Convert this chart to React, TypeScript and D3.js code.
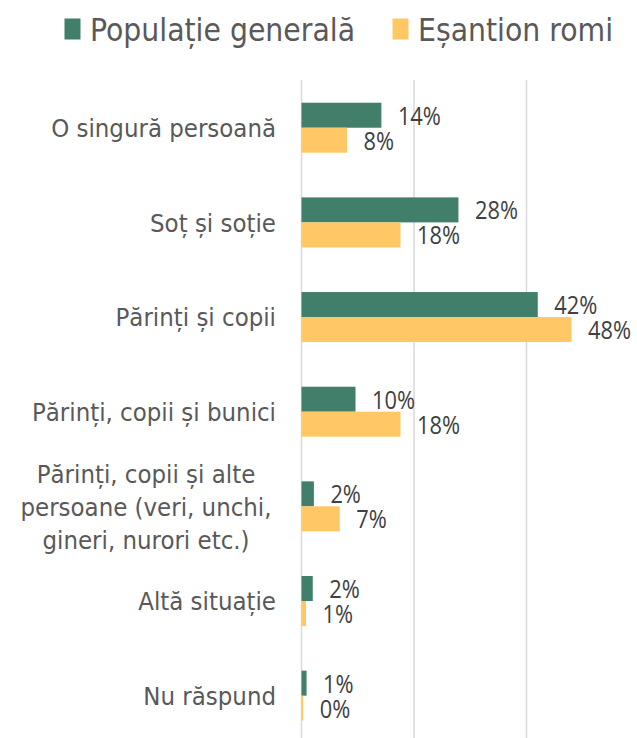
import React from "react";
import * as d3 from "d3";

const categories: string[][] = [
  ["O singură persoană"],
  ["Soț și soție"],
  ["Părinți și copii"],
  ["Părinți, copii și bunici"],
  ["Părinți, copii și alte", "persoane (veri, unchi,", "gineri, nurori etc.)"],
  ["Altă situație"],
  ["Nu răspund"],
];
const seriesNames = ["Populație generală", "Eșantion romi"];
const populatieGenerala = [14.2, 27.9, 42, 9.6, 2.2, 2.0, 0.9];
const esantionRomi = [8.1, 17.6, 48, 17.6, 6.8, 0.8, 0.3];
const gridTicks = [0, 20, 40, 60];

const W = 637;
const H = 738;
const GREEN = "#417F6A";
const YELLOW = "#FFC864";
const GRID = "#D9D9D9";
const LABEL = "#595959";
const DATA = "#404040";
const FONT = "'DejaVu Sans Condensed', 'DejaVu Sans', sans-serif";
const DFONT = "'Open Sans', 'Noto Sans', sans-serif";

export default function App() {
  const x = d3.scaleLinear().domain([0, 60]).range([301.5, 301.5 + 60 * 5.625]);
  const idx = categories.map((_, i) => String(i));
  const y = d3
    .scaleBand<string>()
    .domain(idx)
    .range([80.4, 743])
    .paddingInner(0.472)
    .paddingOuter(0.236);
  const bw = y.bandwidth();
  const half = bw / 2;
  const series = [
    { name: seriesNames[0], values: populatieGenerala, color: GREEN, off: 0 },
    { name: seriesNames[1], values: esantionRomi, color: YELLOW, off: half },
  ];

  return (
    <svg
      width={W}
      height={H}
      style={{ position: "absolute", left: 0, top: 0, background: "#fff" }}
    >
      {/* legend */}
      <g>
        <rect x={64.5} y={18.5} width={16} height={21} fill={GREEN} />
        <text x={90} y={40.5} fontFamily={FONT} fontSize={31.5} fill={LABEL}>
          {seriesNames[0]}
        </text>
        <rect x={392.5} y={18.5} width={16} height={21} fill={YELLOW} />
        <text x={418} y={40.5} fontFamily={FONT} fontSize={31.5} fill={LABEL}>
          {seriesNames[1]}
        </text>
      </g>

      {/* grid */}
      {gridTicks.map((t) => (
        <line
          key={t}
          x1={x(t)}
          x2={x(t)}
          y1={80}
          y2={H}
          stroke={GRID}
          strokeWidth={1.5}
        />
      ))}

      {/* bars */}
      {series.map((s) =>
        s.values.map((v, i) => {
          const yy = (y(String(i)) as number) + s.off;
          return (
            <g key={s.name + i}>
              <rect
                x={x(0)}
                y={yy}
                width={Math.max(0, x(v) - x(0))}
                height={half}
                fill={s.color}
              />
              <g transform={`translate(${x(v) + 16.5},${yy + half / 2}) scale(0.84,1)`}>
                <text
                  x={0}
                  y={0}
                  dy="0.36em"
                  fontFamily={DFONT}
                  fontSize={26}
                  fill={DATA}
                >
                  {Math.round(v) + "%"}
                </text>
              </g>
            </g>
          );
        })
      )}

      {/* category labels */}
      {categories.map((lines, i) => {
        const cy = (y(String(i)) as number) + half;
        const lh = 33;
        const multi = lines.length > 1;
        return (
          <text
            key={i}
            fontFamily={FONT}
            fontSize={25.5}
            fill={LABEL}
            textAnchor={multi ? "middle" : "end"}
          >
            {lines.map((l, j) => (
              <tspan
                key={j}
                x={multi ? 146 : 276}
                y={cy + (j - (lines.length - 1) / 2) * lh}
                dy="0.36em"
              >
                {l}
              </tspan>
            ))}
          </text>
        );
      })}
    </svg>
  );
}
